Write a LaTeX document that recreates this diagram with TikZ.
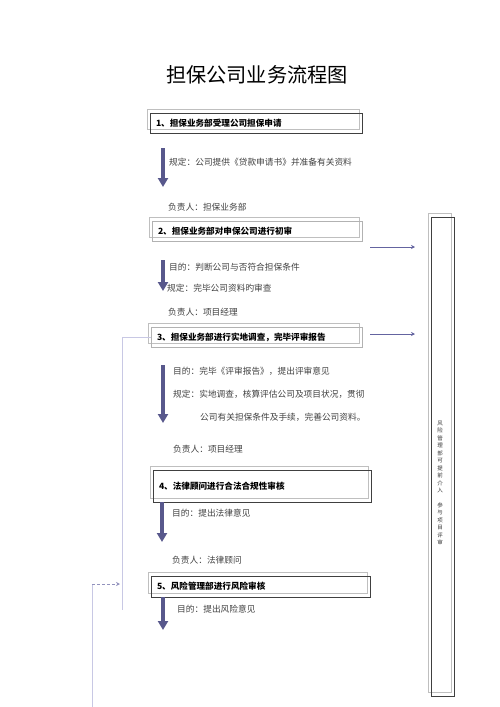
\documentclass[tikz,border=0pt]{standalone}
\usepackage{fontspec}
\newfontfamily\cjk{Noto Sans CJK SC}
\usetikzlibrary{positioning}
\usetikzlibrary{arrows.meta}
\usepackage{xcolor}
\definecolor{flowc}{RGB}{88,88,140}
\definecolor{linec}{RGB}{200,200,228}
\definecolor{sidec}{RGB}{100,100,160}

\begin{document}
\begin{tikzpicture}[x=1pt, y=-1pt,
    every node/.style={font=\cjk\fontsize{8.7}{10}\selectfont, text=black!75, inner sep=0pt},
    hd/.style={draw=black!75, line width=0.7pt, inner xsep=6pt, minimum height=20pt, align=left,
        font=\cjk\bfseries\fontsize{8.6}{10}\selectfont, text=black,
        preaction={draw=black!25, line width=0.6pt, transform canvas={shift={(-3pt,4pt)}}}},
    hdl/.style={hd, draw=black!30},
    tx/.style={anchor=west},
    flow/.style={draw=flowc, line width=4pt, -{Triangle[width=10pt,length=9pt]}},
    side/.style={draw=sidec, line width=0.8pt, -{Stealth[length=4pt,width=4pt]}},
    back/.style={draw=linec, line width=0.8pt}]
    \useasboundingbox (0,0) rectangle (500,707);

    \node[font=\cjk\fontsize{20.2}{24}\selectfont, text=black] (title) at (257,75) {担保公司业务流程图};

    % boxes
    \node[hd, text width=200pt] (n1) at (256,123) {1、担保业务部受理公司担保申请};
    \node[hdl, text width=198pt] (n2) at (257,231) {2、担保业务部对申保公司进行初审};
    \node[hdl, text width=199pt] (n3) at (256.5,337) {3、担保业务部进行实地调查，完毕评审报告};
    \node[hd, text width=206pt, minimum height=32pt] (n4) at (262,486) {4、法律顾问进行合法合规性审核};
    \node[hd, text width=207pt, minimum height=21pt] (n5) at (260.5,586.5) {5、风险管理部进行风险审核};
    \node[hd, minimum width=23pt, minimum height=479pt, inner xsep=0pt] (r) at (442.5,456.5) {};
    \node[align=center, font=\cjk\fontsize{5.5}{7.5}\selectfont, text=black!80] (rt) at (440,483)
        {风\\险\\管\\理\\部\\可\\提\\前\\介\\入\\[7pt]参\\与\\项\\目\\评\\审};

    % texts
    \node[tx] (t1a) at (169,162) {规定：公司提供《贷款申请书》并准备有关资料};
    \node[tx] (t1b) at (168,207) {负责人：担保业务部};
    \node[tx] (t2a) at (169,267) {目的：判断公司与否符合担保条件};
    \node[tx] (t2b) at (167,288) {规定：完毕公司资料旳审查};
    \node[tx] (t2c) at (168,312) {负责人：项目经理};
    \node[tx] (t3a) at (173,371) {目的：完毕《评审报告》，提出评审意见};
    \node[tx] (t3b) at (173,394) {规定：实地调查，核算评估公司及项目状况，贯彻};
    \node[tx] (t3c) at (200,417) {公司有关担保条件及手续，完善公司资料。};
    \node[tx] (t3d) at (173,449) {负责人：项目经理};
    \node[tx] (t4a) at (172,513) {目的：提出法律意见};
    \node[tx] (t4b) at (172,560) {负责人：法律顾问};
    \node[tx] (t5a) at (177,609) {目的：提出风险意见};

    % arrows
    \coordinate (a1s) at (163,148);
    \coordinate (a1e) at (163,187);
    \coordinate (a2s) at (163,260);
    \coordinate (a2e) at (163,291);
    \coordinate (a3s) at (163,365);
    \coordinate (a3e) at (163,423);
    \coordinate (a4s) at (162,502);
    \coordinate (a4e) at (162,542);
    \coordinate (a5s) at (163,597);
    \coordinate (a5e) at (163,630);
    \draw[flow] (a1s) -- (a1e);
    \draw[flow] (a2s) -- (a2e);
    \draw[flow] (a3s) -- (a3e);
    \draw[flow] (a4s) -- (a4e);
    \draw[flow] (a5s) -- (a5e);

    \coordinate (r2s) at (370,247);
    \coordinate (r2e) at (415,247);
    \coordinate (r3s) at (370,334);
    \coordinate (r3e) at (415,334);
    \draw[side] (r2s) -- (r2e);
    \draw[side] (r3s) -- (r3e);

    \coordinate (l3) at (122,610);
    \coordinate (l5a) at (92,707);
    \coordinate (l5b) at (92,584);
    \coordinate (l5c) at (120,584);
    \draw[back] (n3.west) -| (l3);
    \draw[back] (l5a) -- (l5b);
    \draw[back, draw=sidec!70, densely dashed, -{Stealth[length=4pt,width=4pt]}] (l5b) -- (l5c);
\end{tikzpicture}
\end{document}
